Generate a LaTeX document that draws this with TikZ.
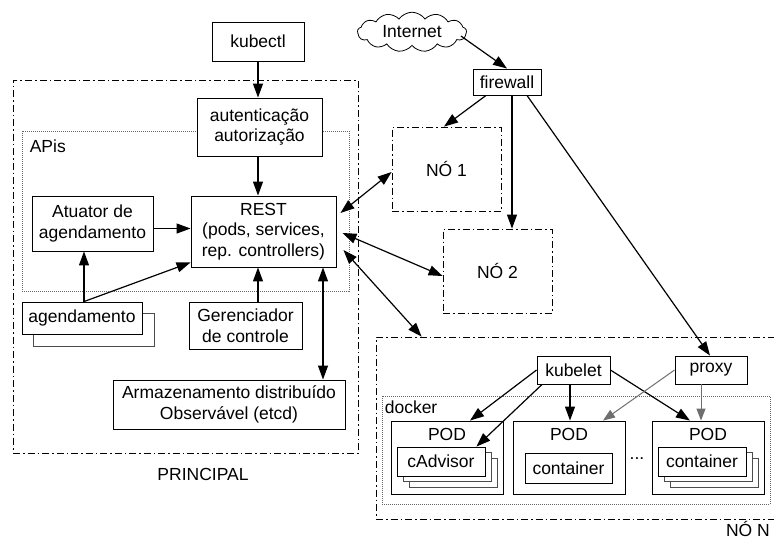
\documentclass[tikz,border=0pt]{standalone}
\usepackage{fontspec}
\setmainfont{Liberation Sans}
\usetikzlibrary{arrows.meta,shapes.symbols}
\definecolor{ourgray}{RGB}{110,110,110}
\begin{document}
\begin{tikzpicture}[x=1pt,y=-1pt,
  font=\fontsize{17.5}{20.5}\selectfont,
  box/.style={draw, line width=0.9pt, fill=white, align=center, inner sep=0pt},
  wh/.style 2 args={minimum width=#1pt, minimum height=#2pt},
  shadowbox/.style={draw=black!70, line width=0.9pt, fill=white, inner sep=0pt},
  dashdot/.style={draw, line width=0.8pt, dash pattern=on 7pt off 3pt on 1.5pt off 3pt, inner sep=0pt},
  dotbox/.style={draw=black!60, line width=0.8pt, dash pattern=on 1pt off 1pt, inner sep=0pt},
  tip/.tip={Triangle[length=14pt,width=10pt]},
  arr/.style={line width=1.2pt, -tip},
  darr/.style={line width=1.2pt, tip-tip},
  garr/.style={line width=1pt, draw=ourgray, -{Triangle[length=12pt,width=9pt, fill=ourgray]}},
  lbl/.style={inner sep=0pt}
]
\useasboundingbox (0,0) rectangle (774,539);

% containers
\node[dashdot, wh={345}{373}] (principal) at (185.5,266.5) {};
\node[dotbox, wh={327}{160}, label={[lbl, anchor=north west, xshift=8pt, yshift=-9pt]north west:APis}] (apis) at (185.5,211) {};
\node[dashdot, wh={420}{182}] (noN) at (586,428) {};
\node[dotbox, wh={388}{108}, label={[lbl, anchor=north west, xshift=3pt, yshift=-5pt]north west:docker}] (docker) at (576,450) {};
\node[dashdot, wh={109}{84}] (no1) at (446.5,169) {NÓ 1};
\node[dashdot, wh={109}{84}] (no2) at (497.5,271) {NÓ 2};

\node[lbl] (principallbl) at (203,474) {PRINCIPAL};
\node[lbl, anchor=east] (noNlbl) at (770,529) {NÓ N};

% principal boxes
\node[box, wh={92}{39}] (kubectl) at (258,41.5) {kubectl};
\node[box, wh={125}{58}] (auth) at (259.5,127) {autenticação\\autorização};
\node[box, wh={145}{71}] (rest) at (263.5,231.5) {REST\\(pods, services,\\rep. controllers)};
\node[box, wh={121}{55}] (atuator) at (92.5,223.5) {Atuator de\\agendamento};
\node[shadowbox, wh={121}{33}] (agendB) at (93.5,329.5) {};
\node[box, wh={120}{32}] (agend) at (82,318) {agendamento};
\node[box, wh={113}{47}] (geren) at (245.5,325.5) {Gerenciador\\de controle};
\node[box, wh={232}{49}] (armaz) at (229,404.5) {Armazenamento distribuído\\Observável (etcd)};

% internet side
\node[cloud, draw, line width=0.8pt, cloud puffs=13, cloud puff arc=110, aspect=2.8,
      minimum width=109pt, minimum height=39pt, inner sep=0pt] (internet) at (412,32) {Internet};
\node[box, wh={68}{26}] (firewall) at (507,82) {firewall};

% node N boxes
\node[box, wh={73}{28}] (kubelet) at (573.5,370) {kubelet};
\node[box, wh={72}{28}] (proxy) at (711,370) {proxy};

\node[box, wh={112}{73}, label={[lbl, anchor=north, yshift=-8pt]north:POD}] (pod1) at (447,457.5) {};
\node[shadowbox, wh={88}{29}] (cadvC) at (453,472.5) {};
\node[shadowbox, wh={88}{29}] (cadvB) at (447,467) {};
\node[box, wh={88}{29}] (cadv) at (441,461.5) {cAdvisor};

\node[box, wh={112}{73}, label={[lbl, anchor=north, yshift=-8pt]north:POD}] (pod2) at (569,457.5) {};
\node[box, wh={87}{30}] (cont2) at (568.5,468) {container};

\node[lbl] (dots) at (637,459) {...};

\node[box, wh={112}{73}, label={[lbl, anchor=north, yshift=-8pt]north:POD}] (pod3) at (708,457.5) {};
\node[shadowbox, wh={88}{29}] (cont3C) at (714,472.5) {};
\node[shadowbox, wh={88}{29}] (cont3B) at (708,467) {};
\node[box, wh={88}{29}] (cont3) at (702,461.5) {container};

% principal arrows
\draw[arr] (kubectl.south) -- (kubectl.south |- auth.north);
\draw[arr] ([xshift=-1.5pt]auth.south) -- ([xshift=-1.5pt]auth.south |- rest.north);
\draw[arr] ([yshift=-5pt]atuator.east) -- ([yshift=-5pt]atuator.east -| rest.west);
\draw[arr] ([xshift=2pt]agend.north) -- ([xshift=2pt]agend.north |- atuator.south);
\draw[arr] ([xshift=2pt]agend.north) -- ([yshift=5pt]rest.south west);
\draw[arr] ([xshift=12.5pt]geren.north) -- ([xshift=12.5pt]geren.north |- rest.south);
\draw[darr] ([xshift=59.5pt]rest.south) -- ([xshift=59.5pt]rest.south |- armaz.north);

% REST to nodes
\draw[darr] ([xshift=4pt,yshift=18.5pt]rest.east) -- ([yshift=-3pt]no1.west);
\draw[darr] ([xshift=6pt,yshift=-1.5pt]rest.east) -- ([yshift=-5pt]no2.west);
\draw[darr] ([xshift=7pt,yshift=-18.5pt]rest.east) -- ([xshift=46pt]noN.north west);

% internet and firewall
\draw[arr] (internet.east) ++(-6pt,-4pt) coordinate (ie) (ie) -- (firewall.north);
\draw[arr] ([xshift=-21pt]firewall.south) -- ([xshift=-2.5pt]no1.north);
\draw[arr] ([xshift=5pt]firewall.south) -- ([xshift=5pt]firewall.south |- no2.north);
\draw[line width=1.2pt, -tip] ([xshift=20pt]firewall.south) -- ([xshift=-1pt]proxy.north);

% kubelet and proxy
\draw[arr] (kubelet.west) -- ([xshift=23pt]pod1.north);
\draw[arr] ([xshift=5.5pt]kubelet.south west) -- ([xshift=-9pt]cadv.north east);
\draw[arr] ([xshift=-3.5pt]kubelet.south) -- ([xshift=-3.5pt]kubelet.south |- pod2.north);
\draw[arr] (kubelet.east) -- ([xshift=-18pt]pod3.north);
\draw[garr] (proxy.west) -- ([xshift=34pt]pod2.north);
\draw[garr] ([xshift=-10pt]proxy.south) -- ([xshift=-10pt]proxy.south |- pod3.north);
\end{tikzpicture}
\end{document}
